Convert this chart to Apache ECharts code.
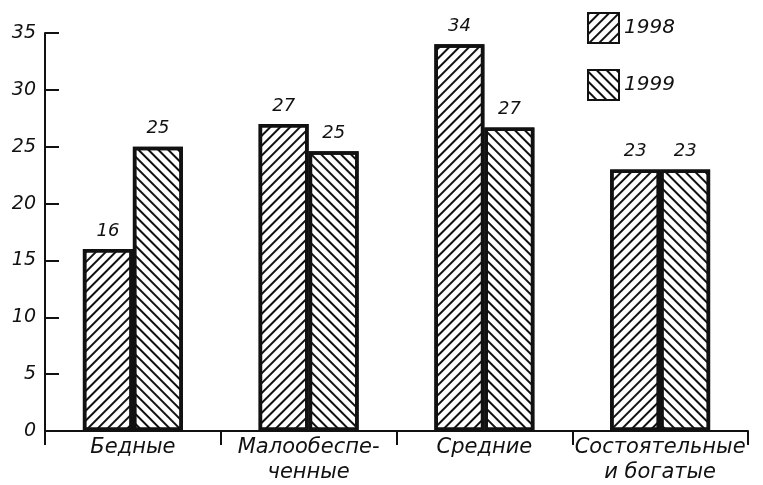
<!DOCTYPE html>
<html lang="ru">
  <head>
    <meta charset="utf-8" />
    <script src="https://cdn.jsdelivr.net/npm/echarts@6/dist/echarts.min.js"></script>
    <title>Доходные группы</title>
    <style>
      html, body { margin: 0; padding: 0; background: #fff; }
      #chart { width: 763px; height: 485px; }
    </style>
  </head>
  <body>
    <div id="chart"></div>
    <script>
      // categories and values
      var categories = ['Бедные', 'Малообеспе-\nченные', 'Средние', 'Состоятельные\nи богатые']
      var years = ['1998', '1999']
      var values1998 = [16, 27, 34, 23]
      var values1999 = [25, 24.6, 26.7, 23]
      var yTicks = { min: 0, max: 35, interval: 5 }

      var font = "'DejaVu Sans', sans-serif"

      function hatch (angle) {
        return {
          symbol: 'rect',
          symbolSize: 1,
          dashArrayX: [1, 0],
          dashArrayY: [2, 5],
          rotation: angle,
          color: '#111'
        }
      }

      function barSeries (name, data, angle) {
        return {
          name: name,
          type: 'bar',
          data: data,
          barWidth: 50,
          barGap: '0%',
          itemStyle: {
            color: '#fff',
            borderColor: '#111',
            borderWidth: 3.5,
            decal: hatch(angle)
          },
          label: {
            show: true,
            position: 'top',
            distance: 9,
            color: '#111',
            fontFamily: font,
            fontStyle: 'italic',
            fontSize: 18,
            formatter: function (p) { return Math.round(p.value) }
          }
        }
      }

      var chart = echarts.init(document.getElementById('chart'), null, { renderer: 'canvas' })
      chart.setOption({
        animation: false,
        backgroundColor: '#fff',
        grid: { left: 45, right: 15, top: 33, bottom: 53 },
        legend: {
          orient: 'vertical',
          left: 582,
          top: 7,
          itemWidth: 31,
          itemHeight: 30,
          itemGap: 25,
          icon: 'rect',
          data: years,
          textStyle: { color: '#111', fontFamily: font, fontStyle: 'italic', fontSize: 20 }
        },
        xAxis: {
          type: 'category',
          data: categories,
          axisLine: { lineStyle: { color: '#111', width: 2 } },
          axisTick: { show: true, length: 14, lineStyle: { color: '#111', width: 2 } },
          axisLabel: {
            color: '#111',
            fontFamily: font,
            fontStyle: 'italic',
            fontSize: 21,
            lineHeight: 25,
            margin: 4,
            interval: 0
          }
        },
        yAxis: {
          type: 'value',
          min: yTicks.min,
          max: yTicks.max,
          interval: yTicks.interval,
          splitLine: { show: false },
          axisLine: { show: true, lineStyle: { color: '#111', width: 2 } },
          axisTick: { show: true, inside: true, length: 14, lineStyle: { color: '#111', width: 2 } },
          axisLabel: { color: '#111', fontFamily: font, fontStyle: 'italic', fontSize: 19, margin: 9 }
        },
        series: [
          barSeries(years[0], values1998, -Math.PI / 4),
          barSeries(years[1], values1999, Math.PI / 4)
        ]
      })
    </script>
  </body>
</html>
